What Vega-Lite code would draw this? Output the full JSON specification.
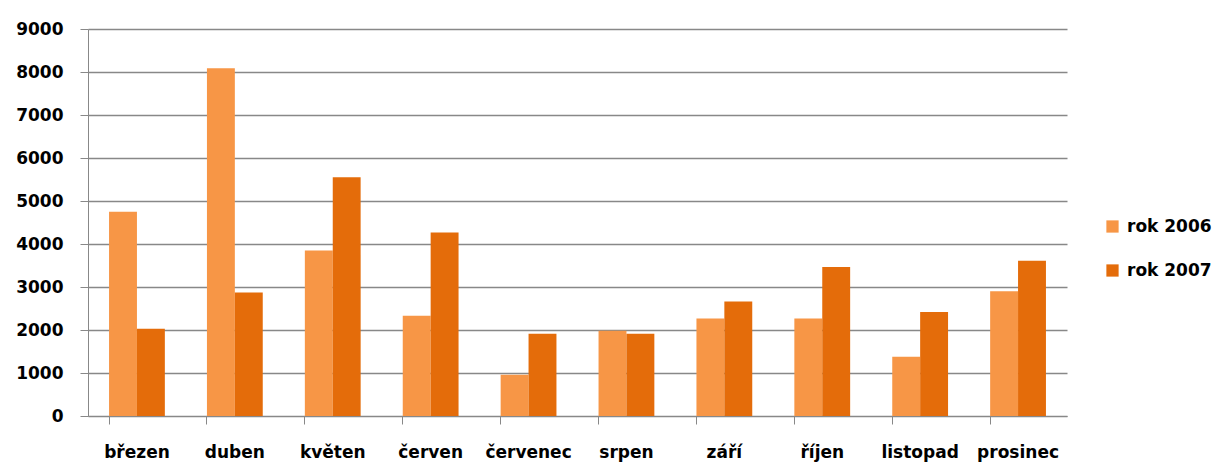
{
  "$schema": "https://vega.github.io/schema/vega-lite/v6.json",
  "autosize": "none",
  "width": 979,
  "height": 387,
  "padding": {"left": 88, "top": 29, "right": 149, "bottom": 48},
  "background": "white",
  "config": {
    "view": {"stroke": null},
    "font": "DejaVu Sans"
  },
  "data": {
    "values": [
      {"mesic": "březen", "rok": "rok 2006", "hodnota": 4750},
      {"mesic": "březen", "rok": "rok 2007", "hodnota": 2030},
      {"mesic": "duben", "rok": "rok 2006", "hodnota": 8090},
      {"mesic": "duben", "rok": "rok 2007", "hodnota": 2870},
      {"mesic": "květen", "rok": "rok 2006", "hodnota": 3850},
      {"mesic": "květen", "rok": "rok 2007", "hodnota": 5550},
      {"mesic": "červen", "rok": "rok 2006", "hodnota": 2330},
      {"mesic": "červen", "rok": "rok 2007", "hodnota": 4270},
      {"mesic": "červenec", "rok": "rok 2006", "hodnota": 960},
      {"mesic": "červenec", "rok": "rok 2007", "hodnota": 1915},
      {"mesic": "srpen", "rok": "rok 2006", "hodnota": 1980},
      {"mesic": "srpen", "rok": "rok 2007", "hodnota": 1915},
      {"mesic": "září", "rok": "rok 2006", "hodnota": 2270},
      {"mesic": "září", "rok": "rok 2007", "hodnota": 2660},
      {"mesic": "říjen", "rok": "rok 2006", "hodnota": 2270},
      {"mesic": "říjen", "rok": "rok 2007", "hodnota": 3465},
      {"mesic": "listopad", "rok": "rok 2006", "hodnota": 1380},
      {"mesic": "listopad", "rok": "rok 2007", "hodnota": 2420},
      {"mesic": "prosinec", "rok": "rok 2006", "hodnota": 2900},
      {"mesic": "prosinec", "rok": "rok 2007", "hodnota": 3610}
    ]
  },
  "mark": {"type": "bar"},
  "encoding": {
    "x": {
      "field": "mesic",
      "type": "nominal",
      "sort": null,
      "scale": {"paddingInner": 0.43, "paddingOuter": 0.215},
      "axis": {
        "title": null,
        "labelAngle": 0,
        "labelFont": "DejaVu Sans",
        "labelFontWeight": "bold",
        "labelFontSize": 17,
        "labelColor": "#000000",
        "labelPadding": 20,
        "labelBaseline": "top",
        "bandPosition": 0,
        "tickSize": 8,
        "tickColor": "#888888",
        "domainColor": "#888888",
        "grid": false
      }
    },
    "xOffset": {"field": "rok", "type": "nominal", "scale": {"paddingInner": 0, "paddingOuter": 0}},
    "y": {
      "field": "hodnota",
      "type": "quantitative",
      "scale": {"domain": [0, 9000], "nice": false},
      "axis": {
        "title": null,
        "format": "d",
        "values": [0, 1000, 2000, 3000, 4000, 5000, 6000, 7000, 8000, 9000],
        "labelFont": "DejaVu Sans",
        "labelFontWeight": "bold",
        "labelFontSize": 17,
        "labelColor": "#000000",
        "labelPadding": 17,
        "tickSize": 8,
        "tickColor": "#888888",
        "domainColor": "#888888",
        "gridColor": "#888888",
        "gridWidth": 1.3
      }
    },
    "color": {
      "field": "rok",
      "type": "nominal",
      "scale": {"domain": ["rok 2006", "rok 2007"], "range": ["#F79646", "#E46C0A"]},
      "legend": {
        "title": null,
        "orient": "none",
        "legendX": 1016,
        "legendY": 189,
        "symbolType": "square",
        "symbolSize": 150,
        "symbolStrokeWidth": 0,
        "labelFont": "DejaVu Sans",
        "labelFontWeight": "bold",
        "labelFontSize": 17,
        "labelColor": "#000000",
        "rowPadding": 26,
        "labelOffset": 6
      }
    }
  }
}
